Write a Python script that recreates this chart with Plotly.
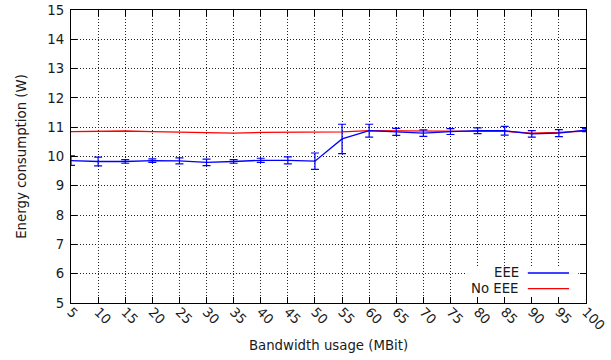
import plotly.graph_objects as go

bandwidth = [5, 10, 15, 20, 25, 30, 35, 40, 45, 50, 55, 60, 65, 70, 75, 80, 85, 90, 95, 100]
eee_mean = [9.86, 9.83, 9.83, 9.86, 9.85, 9.80, 9.83, 9.87, 9.87, 9.84, 10.60, 10.88,
            10.84, 10.80, 10.85, 10.88, 10.88, 10.77, 10.80, 10.90]
eee_err = [0.16, 0.15, 0.06, 0.06, 0.10, 0.11, 0.06, 0.07, 0.12, 0.28, 0.50, 0.22,
           0.12, 0.11, 0.10, 0.10, 0.15, 0.11, 0.12, 0.05]
noeee_mean = [10.85, 10.86, 10.87, 10.85, 10.84, 10.82, 10.80, 10.82, 10.82, 10.82, 10.84,
              10.88, 10.87, 10.86, 10.86, 10.86, 10.86, 10.80, 10.82, 10.87]
x_ticks = [str(v) for v in bandwidth]
y_ticks = list(range(5, 16))

font = "DejaVu Sans"
fsize = 13.3
fcolor = "#1a1a1a"

fig = go.Figure()
fig.add_trace(go.Scatter(
    x=bandwidth, y=noeee_mean, mode="lines", name="No EEE",
    line=dict(color="#ff0000", width=1.3), showlegend=False,
))
fig.add_trace(go.Scatter(
    x=bandwidth, y=eee_mean, mode="lines", name="EEE",
    line=dict(color="#0000ff", width=1.3), showlegend=False,
    error_y=dict(type="data", array=eee_err, visible=True, color="#0000ff",
                 thickness=1.2, width=4),
))

axis_common = dict(
    showline=True, linecolor="black", linewidth=1.2, mirror="ticks",
    ticks="inside", ticklen=6, tickcolor="black", tickwidth=1,
    showgrid=True, gridcolor="#222222", griddash="1px,2px", gridwidth=1,
    zeroline=False, tickfont=dict(family=font, size=fsize, color=fcolor),
)

fig.update_xaxes(
    range=[5, 100], tickmode="array", tickvals=bandwidth, ticktext=x_ticks,
    tickangle=45, ticklabelstandoff=-5,
    title=dict(text="Bandwidth usage (MBit)", font=dict(family=font, size=fsize, color=fcolor),
               standoff=8),
    **axis_common,
)
fig.update_yaxes(
    range=[5, 15], tickmode="array", tickvals=y_ticks,
    ticktext=[str(v) for v in y_ticks], ticklabelstandoff=3,
    title=dict(text="Energy consumption (W)", font=dict(family=font, size=fsize, color=fcolor),
               standoff=17),
    **axis_common,
)

# legend drawn gnuplot-style (text left of the line sample)
shapes = [
    dict(type="rect", xref="paper", yref="paper", x0=0.769, x1=0.985, y0=0.024, y1=0.126,
         fillcolor="white", line=dict(width=0), layer="above"),
    dict(type="line", xref="paper", yref="paper", x0=0.887, x1=0.967, y0=0.1024, y1=0.1024,
         line=dict(color="#0000ff", width=1.3), layer="above"),
    dict(type="line", xref="paper", yref="paper", x0=0.887, x1=0.967, y0=0.0488, y1=0.0488,
         line=dict(color="#ff0000", width=1.3), layer="above"),
]
annotations = [
    dict(text="EEE", xref="paper", yref="paper", x=0.873, y=0.1024, xanchor="right",
         yanchor="middle", showarrow=False, font=dict(family=font, size=fsize, color=fcolor)),
    dict(text="No EEE", xref="paper", yref="paper", x=0.873, y=0.0488, xanchor="right",
         yanchor="middle", showarrow=False, font=dict(family=font, size=fsize, color=fcolor)),
]

fig.update_layout(
    width=611, height=360,
    margin=dict(l=71, r=25, t=10, b=57, autoexpand=False),
    paper_bgcolor="white", plot_bgcolor="white",
    shapes=shapes, annotations=annotations,
    font=dict(family=font, size=fsize),
)

fig.write_html("out.html")
